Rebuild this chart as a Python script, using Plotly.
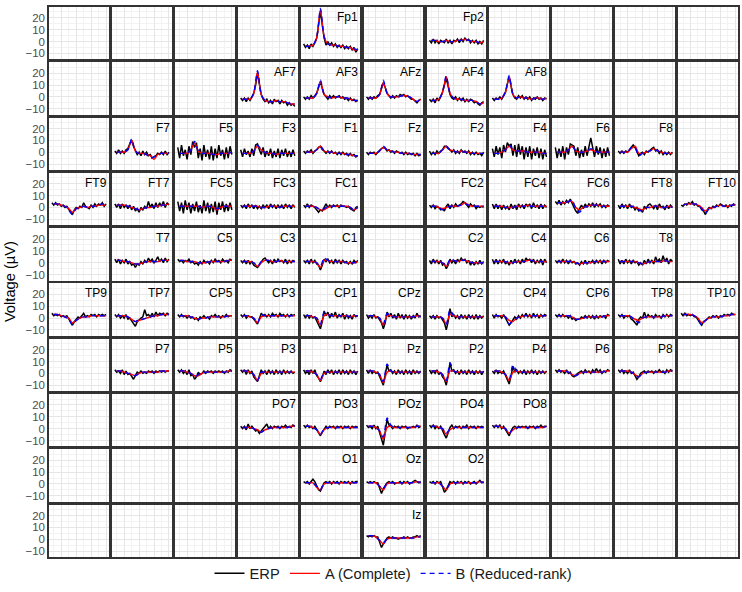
import plotly.graph_objects as go
from plotly.subplots import make_subplots

# ---------------- data ----------------
time_erp_ms = [-125, -100, -75, -50, -25, 0, 25, 50, 75, 100, 125, 150, 175, 200, 225,
               250, 275, 300, 325, 350, 375, 400, 425, 450, 475, 500, 525, 550, 575, 600]
time_model_ms = [-100, -50, 0, 50, 100, 150, 200, 250, 300, 350, 400, 450, 500, 550, 600]

series_names = ["ERP", "A (Complete)", "B (Reduced-rank)"]

# electrode label and its cell in the 10 x 11 scalp grid (row, column)
electrode_grid = [
    ("Fp1", 0, 4), ("Fp2", 0, 6),
    ("AF7", 1, 3), ("AF3", 1, 4), ("AFz", 1, 5), ("AF4", 1, 6), ("AF8", 1, 7),
    ("F7", 2, 1), ("F5", 2, 2), ("F3", 2, 3), ("F1", 2, 4), ("Fz", 2, 5), ("F2", 2, 6),
    ("F4", 2, 7), ("F6", 2, 8), ("F8", 2, 9),
    ("FT9", 3, 0), ("FT7", 3, 1), ("FC5", 3, 2), ("FC3", 3, 3), ("FC1", 3, 4),
    ("FC2", 3, 6), ("FC4", 3, 7), ("FC6", 3, 8), ("FT8", 3, 9), ("FT10", 3, 10),
    ("T7", 4, 1), ("C5", 4, 2), ("C3", 4, 3), ("C1", 4, 4), ("C2", 4, 6), ("C4", 4, 7),
    ("C6", 4, 8), ("T8", 4, 9),
    ("TP9", 5, 0), ("TP7", 5, 1), ("CP5", 5, 2), ("CP3", 5, 3), ("CP1", 5, 4), ("CPz", 5, 5),
    ("CP2", 5, 6), ("CP4", 5, 7), ("CP6", 5, 8), ("TP8", 5, 9), ("TP10", 5, 10),
    ("P7", 6, 1), ("P5", 6, 2), ("P3", 6, 3), ("P1", 6, 4), ("Pz", 6, 5), ("P2", 6, 6),
    ("P4", 6, 7), ("P6", 6, 8), ("P8", 6, 9),
    ("PO7", 7, 3), ("PO3", 7, 4), ("POz", 7, 5), ("PO4", 7, 6), ("PO8", 7, 7),
    ("O1", 8, 4), ("Oz", 8, 5), ("O2", 8, 6),
    ("Iz", 9, 5),
]

# voltages in microvolts
Fp1_erp = [-2,-5,-3,-6,-2,-4,-1,3,14,26,14,3,-3,0,-3,-1,-4,-2,-5,-3,-5,-3,-6,-4,-6,-4,-7,-5,-9,-6]
Fp1_A = [-4,-4,-3,3,27,4,-2,-3,-3,-4,-4,-5,-5,-7,-7]
Fp1_B = [-4,-4,-3,3,28,4,-2,-3,-3,-4,-4,-5,-5,-6,-7]
Fp2_erp = [1,-1,2,-1,1,-2,1,0,-1,2,-1,1,-2,1,0,2,-1,2,0,3,1,2,-1,1,-1,1,-2,0,-2,1]
Fp2_A = [1,1,0,0,1,0,0,1,1,2,1,0,0,-1,0]
Fp2_B = [1,1,0,0,1,0,0,1,1,2,1,0,0,-1,0]

AF7_erp = [-1,-3,-1,-4,-1,-3,0,3,10,20,11,2,-2,-4,-2,-5,-3,-6,-2,-4,-3,-6,-3,-5,-4,-7,-5,-7,-6,-8]
AF7_A = [-2,-2,-2,3,21,2,-3,-4,-4,-3,-4,-4,-5,-6,-6]
AF7_B = [-2,-2,-2,3,22,2,-3,-4,-4,-3,-4,-4,-5,-6,-6]
AF3_erp = [0,-2,0,-2,1,-1,1,3,8,13,7,2,0,-2,1,-1,1,-1,0,1,-1,0,-2,-1,-3,-1,-3,-2,-4,-3]
AF3_A = [-1,-1,-1,3,13,2,0,-1,0,0,-1,-1,-2,-3,-3]
AF3_B = [-1,-1,-1,3,14,2,0,-1,0,0,-1,-1,-2,-3,-3]
AFz_erp = [0,-2,0,-2,0,-1,1,2,7,12,8,3,1,-1,1,-1,1,0,2,1,2,0,1,-1,-2,-2,-4,-5,-3,-2]
AFz_A = [-1,-1,-1,2,12,3,0,0,0,1,1,0,-2,-4,-2]
AFz_B = [-1,-1,-1,2,14,3,0,0,0,1,1,0,-2,-4,-2]
AF4_erp = [-2,-4,-2,-5,-1,-3,0,4,10,16,9,2,-1,-2,0,-3,-1,-3,-1,-4,-2,-4,-2,-3,-5,-4,-6,-7,-5,-4]
AF4_A = [-3,-3,-2,4,17,3,-1,-2,-2,-3,-3,-3,-4,-6,-5]
AF4_B = [-3,-3,-2,4,18,3,-1,-2,-2,-3,-3,-3,-4,-6,-5]
AF8_erp = [-1,-3,-1,-2,0,-2,1,4,11,17,9,2,-1,-2,1,-1,1,-2,0,-2,0,-3,-1,-2,0,-2,-1,-3,-1,-2]
AF8_A = [-2,-2,-1,4,17,2,-1,0,-1,-1,-2,-1,-1,-2,-1]
AF8_B = [-2,-2,-1,4,18,2,-1,0,-1,-1,-2,-1,-1,-2,-1]

F7_erp = [1,-1,2,-1,1,-1,2,3,7,10,5,1,-2,0,-3,1,-2,0,-3,-2,-5,-4,-3,-1,-2,0,-2,1,-2,0]
F7_A = [0,0,0,2,10,1,-1,-1,-2,-3,-6,-2,-1,-1,-1]
F7_B = [0,0,0,2,11,1,-1,-1,-2,-5,-4,-2,-1,-1,-1]
F5_erp = [4,-5,6,-3,2,-6,5,-2,9,4,8,-5,3,-7,6,-4,2,-6,5,-7,3,-5,6,-3,2,-6,4,-5,5,-2]
F5_A = [-1,-1,-1,2,8,1,-1,-1,-1,-2,-2,-1,-1,-1,0]
F5_B = [-1,-1,-1,2,9,1,-1,-1,-1,-2,-2,-1,-1,-1,0]
F3_erp = [2,-4,3,-2,1,-4,3,-3,6,7,2,-2,4,-4,1,-3,3,-5,1,-4,3,-5,2,-3,3,-4,1,-4,2,-3]
F3_A = [-1,-1,-1,1,5,2,0,-1,-1,-2,-1,-1,-1,-1,-1]
F3_B = [-1,-1,-1,1,6,2,0,-1,-1,-2,-1,-1,-1,-1,-1]
F1_erp = [1,-1,1,0,2,-1,1,2,4,5,2,1,-1,1,-1,1,-1,0,-2,0,-2,0,-2,-1,-3,-1,-3,-2,-4,-3]
F1_A = [0,0,0,2,5,1,0,0,-1,-1,-1,-2,-2,-3,-3]
F1_B = [0,0,0,2,5,1,0,0,-1,-1,-1,-2,-2,-3,-3]
Fz_erp = [0,-2,0,-1,0,-2,0,2,3,4,3,1,2,0,1,-1,1,0,-1,0,-2,0,-2,-1,-2,-1,-3,-1,-3,-2]
Fz_A = [-1,-1,-1,1,4,2,1,0,0,-1,-1,-1,-2,-2,-2]
Fz_B = [-1,-1,-1,1,5,2,1,0,0,-1,-1,-1,-2,-2,-2]
F2_erp = [1,-2,0,-2,1,-1,1,2,5,5,3,2,0,2,-1,1,-1,2,0,1,-1,1,-2,0,-2,0,-2,-1,-3,0]
F2_A = [-1,-1,-1,2,5,2,1,0,1,0,0,-1,-1,-1,-1]
F2_B = [-1,-1,-1,2,5,2,1,0,1,0,0,-1,-1,-1,-1]
F4_erp = [3,-4,5,-2,4,-5,6,0,8,5,7,-3,6,-4,7,-2,5,-6,4,-4,5,-6,3,-3,4,-5,3,-6,2,-4]
F4_A = [-1,-1,0,2,5,2,1,1,1,0,0,0,0,-1,-1]
F4_B = [-1,-1,0,2,6,2,1,1,1,0,0,0,0,-1,-1]
F6_erp = [4,-5,3,-4,5,-6,4,-2,7,6,5,-3,4,-5,2,-4,5,-3,6,12,4,-4,5,-2,4,-5,3,-4,4,-3]
F6_A = [0,0,0,2,5,1,0,0,1,2,1,0,0,0,0]
F6_B = [0,0,0,2,5,1,0,0,1,3,1,0,0,0,0]
F8_erp = [1,-1,1,-1,1,0,2,4,6,4,0,-3,-1,0,-2,1,0,2,3,4,1,2,-1,1,-2,0,-2,0,-2,0]
F8_A = [0,0,0,3,5,-1,-1,0,1,3,1,0,-1,-1,-1]
F8_B = [0,0,0,4,4,-3,-1,0,1,3,1,0,-1,-1,-1]

FT9_erp = [4,2,4,2,3,1,2,0,1,-2,-4,-6,-2,0,-1,1,0,4,1,0,-1,2,0,3,1,3,2,4,1,3]
FT9_A = [3,3,2,1,-1,-4,-1,0,1,0,1,1,2,2,2]
FT9_B = [3,3,2,1,-2,-6,-1,0,1,0,1,1,2,3,2]
FT7_erp = [3,0,3,-1,3,0,2,-1,2,-2,1,-3,-1,-4,0,-2,1,-1,5,0,3,-1,4,0,4,1,5,0,4,2]
FT7_A = [2,2,2,1,0,-1,-2,-1,0,0,1,1,2,2,3]
FT7_B = [2,2,2,1,0,-1,-2,-1,0,0,1,1,2,2,3]
FC5_erp = [5,-3,4,-5,6,-2,4,-5,3,-3,5,-4,2,-5,6,-3,4,-5,3,-4,5,-6,4,-2,5,-4,3,-3,4,-2]
FC5_A = [1,1,1,1,1,1,0,1,1,0,-2,0,1,1,1]
FC5_B = [1,1,1,1,1,1,0,1,1,0,-1,0,1,1,1]
FC3_erp = [2,0,2,-1,3,0,2,-1,2,-1,1,-1,2,0,2,-1,3,0,2,-1,2,0,2,-1,3,0,2,-1,2,0]
FC3_A = [1,1,1,1,1,0,0,1,1,1,0,1,1,1,1]
FC3_B = [1,1,1,1,1,0,0,1,1,1,0,1,1,1,1]
FC1_erp = [2,0,3,0,2,1,0,-2,-4,-2,-3,0,3,0,2,0,2,1,2,0,2,1,1,0,1,-1,-2,-3,0,1]
FC1_A = [1,1,1,0,-2,-2,0,1,1,1,1,1,0,-2,0]
FC1_B = [1,1,1,0,-2,-1,1,1,1,1,1,1,0,-2,0]
FC2_erp = [2,0,2,-1,1,0,-2,-1,-3,1,3,-1,2,0,3,1,2,3,5,4,2,0,3,1,2,-1,1,0,1,0]
FC2_A = [1,1,0,-1,0,1,1,1,2,4,2,1,1,1,1]
FC2_B = [1,1,0,-2,0,1,1,1,2,3,2,1,1,1,1]
FC4_erp = [3,-1,3,-1,2,-2,2,-1,1,-2,3,-1,2,-2,3,0,2,-1,3,1,3,-1,4,0,2,-1,3,-1,2,0]
FC4_A = [1,1,1,0,0,0,1,1,1,2,1,1,1,1,1]
FC4_B = [1,1,1,0,0,0,1,1,1,2,1,1,1,1,1]
FC6_erp = [5,3,6,2,5,3,6,4,7,3,0,-3,-5,-1,2,-1,3,0,3,1,4,0,3,1,3,0,2,0,2,1]
FC6_A = [4,4,4,5,5,0,-2,0,1,2,2,2,1,1,1]
FC6_B = [4,4,4,5,6,-1,-4,0,1,2,2,2,1,1,1]
FT8_erp = [2,-1,3,0,2,-1,3,0,1,-2,0,-3,-2,-4,1,-1,2,3,1,-1,2,-2,3,0,1,-2,2,-1,2,0]
FT8_A = [1,1,1,1,0,-1,-2,0,0,1,1,0,0,1,0]
FT8_B = [1,1,1,1,0,-2,-3,0,0,1,1,0,0,1,0]
FT10_erp = [2,1,3,2,4,3,5,2,3,1,1,-2,-3,-6,-2,0,-1,1,0,2,1,3,2,1,2,0,2,1,3,2]
FT10_A = [2,3,3,3,2,0,-3,-1,0,1,2,1,1,2,2]
FT10_B = [2,3,3,3,2,-1,-5,-1,0,1,2,1,1,2,2]

T7_erp = [3,0,3,-1,2,0,3,-1,1,-2,-1,-4,-1,-2,1,-1,2,0,4,1,3,0,2,5,1,3,0,4,1,3]
T7_A = [2,2,1,1,0,-1,-1,0,1,1,1,1,2,2,2]
T7_B = [2,2,1,1,0,-1,-1,0,1,1,1,1,2,2,2]
C5_erp = [3,1,2,0,2,1,3,0,1,-1,0,-2,1,-1,2,0,1,-1,2,0,3,1,2,0,3,1,2,0,3,2]
C5_A = [2,2,1,1,1,0,0,0,1,1,1,1,1,2,2]
C5_B = [2,2,1,1,1,0,0,0,1,1,1,1,1,2,2]
C3_erp = [2,0,2,-1,2,-1,1,-2,-3,-4,-2,1,3,4,2,0,2,-1,3,0,3,1,2,0,3,-1,2,0,2,1]
C3_A = [1,1,1,0,-3,0,2,2,1,1,2,1,1,1,1]
C3_B = [1,1,1,0,-3,1,2,2,1,1,2,1,1,1,1]
C1_erp = [2,0,2,-1,3,0,2,-1,-2,-6,-2,3,1,3,0,2,-1,3,0,2,-1,2,0,1,-1,1,-1,2,0,2]
C1_A = [1,1,1,0,-4,2,2,1,1,1,1,0,0,0,1]
C1_B = [1,1,1,0,-3,4,2,1,1,1,1,0,0,0,1]
C2_erp = [2,-1,3,0,2,-1,2,-2,-1,-5,-2,3,0,2,-1,3,1,4,2,3,0,2,-2,1,-2,1,-1,2,-1,1]
C2_A = [1,1,1,0,-3,1,2,1,2,2,1,0,0,0,0]
C2_B = [1,1,1,0,-3,3,2,1,2,2,1,0,0,0,0]
C4_erp = [3,-1,3,-1,2,0,3,-1,1,-2,2,-1,3,0,2,-1,3,0,4,2,3,0,3,-1,2,0,3,-2,3,0]
C4_A = [1,1,1,1,0,0,1,1,1,2,2,1,1,1,1]
C4_B = [1,1,1,1,0,0,1,1,1,2,2,1,1,1,1]
C6_erp = [2,0,2,0,3,0,2,-1,2,0,1,-1,0,-2,1,-1,2,-1,1,0,2,-1,2,0,2,-1,2,0,2,1]
C6_A = [1,1,1,1,1,0,-1,0,0,0,1,1,1,1,1]
C6_B = [1,1,1,1,1,0,-1,0,0,0,1,1,1,1,1]
T8_erp = [3,-1,2,-1,3,0,2,-1,2,0,1,-2,0,-2,2,-1,3,0,2,-1,5,1,3,0,6,1,4,-1,3,1]
T8_A = [1,1,1,1,1,0,-1,0,1,1,1,1,2,1,1]
T8_B = [1,1,1,1,1,0,-1,0,1,1,1,1,2,1,1]

TP9_erp = [4,2,3,2,3,1,2,1,2,-1,-3,-6,-3,-1,1,0,2,4,1,2,1,3,2,3,1,3,2,3,2,3]
TP9_A = [3,3,2,1,0,-4,-2,0,1,1,2,2,2,2,2]
TP9_B = [3,3,2,1,-1,-6,-2,0,1,1,2,2,2,2,2]
TP7_erp = [3,1,3,0,2,0,3,-1,0,-2,-4,-7,-3,-1,0,1,7,2,3,1,4,1,5,2,4,3,4,2,4,3]
TP7_A = [2,2,2,1,-1,-3,-2,-1,0,1,2,2,3,3,3]
TP7_B = [2,2,2,1,-1,-3,-1,-1,0,1,2,2,3,3,3]
CP5_erp = [3,1,3,1,2,0,2,0,1,-1,0,-2,1,0,2,0,1,-1,2,1,3,1,2,0,2,1,3,1,2,2]
CP5_A = [2,2,2,1,0,-1,0,0,1,1,1,1,1,2,2]
CP5_B = [2,2,2,1,0,-1,0,0,1,1,1,1,1,2,2]
CP3_erp = [3,1,3,0,2,1,1,-1,-3,-5,-1,4,2,3,1,3,1,4,2,3,1,4,2,3,1,3,1,3,2,3]
CP3_A = [2,2,1,0,-4,1,2,2,2,2,2,2,2,2,2]
CP3_B = [2,2,1,0,-4,3,2,2,2,2,2,2,2,2,2]
CP1_erp = [3,0,3,0,2,0,1,-2,-5,-9,-3,6,2,5,0,4,1,5,0,3,1,4,-1,3,0,2,-1,3,1,2]
CP1_A = [2,2,1,0,-6,2,3,2,2,2,2,2,1,2,2]
CP1_B = [2,2,1,0,-5,5,3,2,2,2,2,2,1,2,2]
CPz_erp = [3,0,2,0,3,0,1,-2,-4,-9,-4,5,1,4,0,3,-1,4,0,3,-1,3,0,2,-1,2,0,4,1,2]
CPz_A = [2,2,1,0,-6,2,2,1,1,1,1,1,1,2,1]
CPz_B = [2,2,1,0,-5,4,2,1,1,1,1,1,1,2,1]
CP2_erp = [2,0,2,-1,2,0,1,-2,-4,-10,-3,8,1,3,0,2,-1,3,0,2,-1,3,0,2,-1,3,-1,2,0,2]
CP2_A = [1,1,1,0,-5,3,2,1,1,1,1,1,1,1,1]
CP2_B = [1,1,1,0,-5,7,2,1,1,1,1,1,1,1,1]
CP4_erp = [3,0,3,1,2,0,3,0,-2,-6,-4,-2,1,-1,2,0,3,1,4,1,3,0,4,1,3,0,3,1,3,2]
CP4_A = [2,2,2,1,-2,-3,0,1,2,2,2,2,2,2,2]
CP4_B = [2,2,2,1,-5,-2,0,1,2,2,2,2,2,2,2]
CP6_erp = [3,1,3,1,3,1,2,0,2,-1,0,-2,-1,-1,1,0,2,0,2,0,2,-1,2,0,2,1,2,0,3,2]
CP6_A = [2,2,2,2,1,-1,-1,0,1,1,1,1,1,2,2]
CP6_B = [2,2,2,2,1,-1,-1,0,1,1,1,1,1,2,2]
TP8_erp = [3,1,3,0,2,1,2,-1,-2,-4,-6,-1,1,0,5,0,3,1,2,0,3,1,2,0,3,1,3,1,3,2]
TP8_A = [2,2,2,1,-1,-2,0,1,1,1,1,1,2,2,2]
TP8_B = [2,2,2,1,-2,-4,0,1,1,1,1,1,2,2,2]
TP10_erp = [4,2,4,2,3,2,3,1,1,-2,-4,-6,-3,-2,0,1,0,2,1,2,0,2,1,3,2,3,2,4,3,3]
TP10_A = [3,3,3,2,0,-4,-2,0,1,1,1,2,2,3,3]
TP10_B = [3,3,3,2,-1,-6,-2,0,1,1,1,2,2,3,3]

P7_erp = [3,1,2,0,3,-1,2,-1,0,-3,-5,-2,1,0,2,0,1,0,2,1,2,0,2,1,2,1,2,1,2,2]
P7_A = [2,2,1,0,-1,-2,0,1,1,1,1,1,2,2,2]
P7_B = [2,2,1,0,-1,-2,0,1,1,1,1,1,2,2,2]
P5_erp = [3,1,3,0,2,-1,3,-2,-1,-5,-3,1,-1,0,2,0,2,1,2,0,2,1,2,1,2,0,2,1,3,2]
P5_A = [2,2,1,0,-2,-2,0,1,1,1,1,1,1,2,2]
P5_B = [2,2,1,0,-3,-1,0,1,1,1,1,1,1,2,2]
P3_erp = [3,1,3,-1,3,0,2,-3,-5,-7,-2,3,0,2,-1,3,0,2,-1,3,0,2,-1,3,0,2,0,2,0,1]
P3_A = [2,2,1,-1,-6,0,1,1,1,1,1,1,1,1,1]
P3_B = [2,2,1,-1,-6,1,1,1,1,1,1,1,1,1,1]
P1_erp = [3,0,2,-1,3,0,3,-2,-4,-7,-3,2,-1,3,0,3,-1,2,0,3,-1,3,0,2,-1,3,0,2,-1,2]
P1_A = [2,2,1,-1,-6,0,1,1,1,1,1,1,1,1,1]
P1_B = [2,2,1,-1,-5,1,1,1,1,1,1,1,1,1,1]
Pz_erp = [3,0,3,0,2,0,1,-3,-6,-10,-1,7,2,3,0,2,-1,3,0,2,-1,3,0,2,-1,3,0,2,0,2]
Pz_A = [2,2,1,-1,-8,1,2,1,1,1,1,1,1,1,1]
Pz_B = [2,2,1,-1,-7,8,2,1,1,1,1,1,1,1,1]
P2_erp = [3,0,2,0,3,-1,1,-3,-5,-10,-2,9,2,3,0,2,-1,3,0,2,-1,3,0,2,-1,2,0,2,-1,2]
P2_A = [2,2,1,-1,-7,2,2,1,1,1,1,1,1,1,1]
P2_B = [2,2,1,-1,-6,9,2,1,1,1,1,1,1,1,1]
P4_erp = [2,0,3,0,2,0,2,-2,-5,-9,-2,6,1,3,0,2,0,3,-1,2,0,3,0,2,-1,2,0,2,0,2]
P4_A = [2,2,1,-1,-6,1,2,1,1,1,1,1,1,1,1]
P4_B = [2,2,1,-1,-5,7,2,1,1,1,1,1,1,1,1]
P6_erp = [3,1,3,1,2,0,3,0,1,-2,-3,-1,0,1,2,0,3,1,2,0,3,1,4,1,3,0,2,1,3,2]
P6_A = [2,2,2,1,-1,-2,0,1,1,1,1,1,1,2,2]
P6_B = [2,2,2,1,-1,-2,0,1,1,1,1,1,1,2,2]
P8_erp = [3,1,3,0,2,0,3,0,1,-2,-5,-3,0,1,2,0,2,1,2,0,2,1,3,1,2,0,3,1,3,2]
P8_A = [2,2,2,1,-1,-3,0,1,1,1,1,1,1,2,2]
P8_B = [2,2,2,1,-1,-3,0,1,1,1,1,1,1,2,2]

PO7_erp = [2,0,2,-1,4,0,2,0,-2,-1,-4,-2,0,1,4,0,2,0,2,1,2,0,2,1,3,1,2,1,3,2]
PO7_A = [1,1,1,0,-1,-3,-1,0,1,1,1,1,1,2,2]
PO7_B = [1,1,1,0,-2,-3,-1,0,1,1,1,1,1,2,2]
PO3_erp = [3,1,3,1,2,0,2,-1,-4,-6,-3,0,2,0,2,1,2,0,2,1,2,0,2,1,2,0,2,1,2,1]
PO3_A = [2,2,1,-1,-5,-1,1,1,1,1,1,1,1,1,1]
PO3_B = [2,2,1,-1,-5,0,1,1,1,1,1,1,1,1,1]
POz_erp = [3,1,2,0,3,0,2,-4,-9,-14,-3,8,3,2,0,2,1,2,0,2,1,2,0,1,1,2,1,3,1,2]
POz_A = [2,2,1,-2,-9,1,2,1,1,1,1,1,1,2,2]
POz_B = [2,2,1,-2,-7,9,3,1,1,1,1,1,1,2,2]
PO4_erp = [3,1,3,0,2,0,2,-2,-5,-8,-3,1,3,0,2,1,2,0,2,1,3,0,2,1,2,0,2,1,2,1]
PO4_A = [2,2,1,0,-5,-1,1,1,1,1,1,1,1,1,1]
PO4_B = [2,2,1,0,-4,0,1,1,1,1,1,1,1,1,1]
PO8_erp = [3,1,3,1,3,0,2,-1,-3,-6,-2,1,2,0,2,1,2,1,2,0,2,1,2,0,2,1,3,1,2,2]
PO8_A = [2,2,1,0,-4,-1,1,1,1,1,1,1,1,1,2]
PO8_B = [2,2,1,0,-4,0,1,1,1,1,1,1,1,1,2]

O1_erp = [2,1,2,0,2,4,2,-2,-5,-6,-2,1,2,1,2,0,2,1,2,0,2,1,2,1,2,0,2,1,2,2]
O1_A = [1,1,1,-3,-5,0,1,1,1,1,1,1,1,1,1]
O1_B = [1,1,1,-2,-5,1,1,1,1,1,1,1,1,1,1]
Oz_erp = [2,1,2,1,2,1,1,-3,-8,-4,-1,1,2,1,2,0,1,1,2,0,2,1,2,0,1,2,3,2,1,2]
Oz_A = [1,1,1,-2,-5,0,1,1,1,1,1,1,1,2,1]
Oz_B = [1,1,1,-2,-4,1,1,1,1,1,1,1,1,2,1]
O2_erp = [2,1,2,0,2,1,2,-3,-7,-5,-1,2,1,2,0,2,1,2,0,2,1,2,0,1,2,0,2,3,1,2]
O2_A = [1,1,1,-2,-5,0,1,1,1,1,1,1,1,2,1]
O2_B = [1,1,1,-2,-4,0,1,1,1,1,1,1,1,2,1]

Iz_erp = [3,2,3,2,3,2,2,-3,-7,-4,-1,1,2,1,2,1,1,0,1,1,2,1,2,1,1,2,2,3,2,3]
Iz_A = [3,3,2,-1,-4,0,1,1,1,1,1,1,1,2,2]
Iz_B = [3,3,2,-1,-3,0,1,1,1,1,1,1,1,2,2]

# ---------------- table built from the lists ----------------
data_table = {}
for name, _, _ in electrode_grid:
    erp = globals()[name + "_erp"]
    a = globals()[name + "_A"]
    b = globals()[name + "_B"]
    if len(erp) != len(time_erp_ms) or len(a) != len(time_model_ms) or len(b) != len(time_model_ms):
        raise ValueError(f"length mismatch in {name}: {len(erp)} {len(a)} {len(b)}")
    data_table[name] = (erp, a, b)

# ---------------- figure ----------------
FONT = "Liberation Sans, Arial, Helvetica, sans-serif"
N_ROWS, N_COLS = 10, 11
W, H = 742, 592
ML, MR, MT, MB = 49, 2, 7, 28
plot_w = W - ML - MR
plot_h = H - MT - MB

fig = make_subplots(rows=N_ROWS, cols=N_COLS,
                    horizontal_spacing=3.2 / plot_w,
                    vertical_spacing=3.0 / plot_h)

styles = [
    dict(color="#000000", width=1.5),
    dict(color="#FF0000", width=1.4, shape="spline", smoothing=0.7),
    dict(color="#0000FF", width=1.4, dash="5px,4px", shape="spline", smoothing=0.7),
]

occupied = set()
for i, (name, r, c) in enumerate(electrode_grid):
    occupied.add((r, c))
    erp, a, b = data_table[name]
    xs = [time_erp_ms, time_model_ms, time_model_ms]
    ys = [erp, a, b]
    for k in range(3):
        fig.add_trace(go.Scatter(x=xs[k], y=ys[k], mode="lines", line=styles[k],
                                 name=series_names[k], legendgroup=series_names[k],
                                 showlegend=(i == 0), hoverinfo="skip"),
                      row=r + 1, col=c + 1)
    n = r * N_COLS + c + 1
    xref = "x domain" if n == 1 else f"x{n} domain"
    yref = "y domain" if n == 1 else f"y{n} domain"
    fig.add_annotation(text=name, xref=xref, yref=yref, x=1, y=1,
                       xanchor="right", yanchor="top", showarrow=False,
                       xshift=0, yshift=-1,
                       font=dict(family=FONT, size=12, color="#000000"))

# empty grid cells still get their framed panel
for r in range(N_ROWS):
    for c in range(N_COLS):
        if (r, c) not in occupied:
            fig.add_trace(go.Scatter(x=[None], y=[None], mode="lines", showlegend=False,
                                     hoverinfo="skip"), row=r + 1, col=c + 1)

axis_common = dict(showline=True, mirror=True, linecolor="#333333", linewidth=1.5,
                   zeroline=False, ticks="", showgrid=True,
                   gridcolor="#E6E6E6", gridwidth=1)

fig.update_xaxes(range=[-164, 636], showticklabels=False, tick0=0, dtick=200,
                 minor=dict(tick0=0, dtick=100, showgrid=True, gridcolor="#F3F3F3", gridwidth=0.8),
                 **axis_common)
fig.update_yaxes(range=[-15, 29.2], showticklabels=False, tick0=0, dtick=10,
                 minor=dict(tick0=0, dtick=5, showgrid=True, gridcolor="#F3F3F3", gridwidth=0.8),
                 **axis_common)
fig.update_yaxes(showticklabels=True, col=1,
                 tickfont=dict(family=FONT, size=11.5, color="#4D4D4D"))

fig.add_annotation(text="Voltage (µV)", xref="paper", yref="paper",
                   x=(10 - ML) / plot_w, y=0.5, textangle=-90, showarrow=False,
                   xanchor="center", yanchor="middle",
                   font=dict(family=FONT, size=14.7, color="#000000"))

fig.update_layout(
    width=W, height=H,
    margin=dict(l=ML, r=MR, t=MT, b=MB),
    paper_bgcolor="white", plot_bgcolor="white",
    font=dict(family=FONT),
    showlegend=True,
    legend=dict(orientation="h", x=0.5, xanchor="center",
                y=-17 / plot_h, yanchor="middle",
                font=dict(family=FONT, size=14.7, color="#1A1A1A"),
                itemwidth=30, bgcolor="rgba(0,0,0,0)"),
)

fig.write_html("out.html")
